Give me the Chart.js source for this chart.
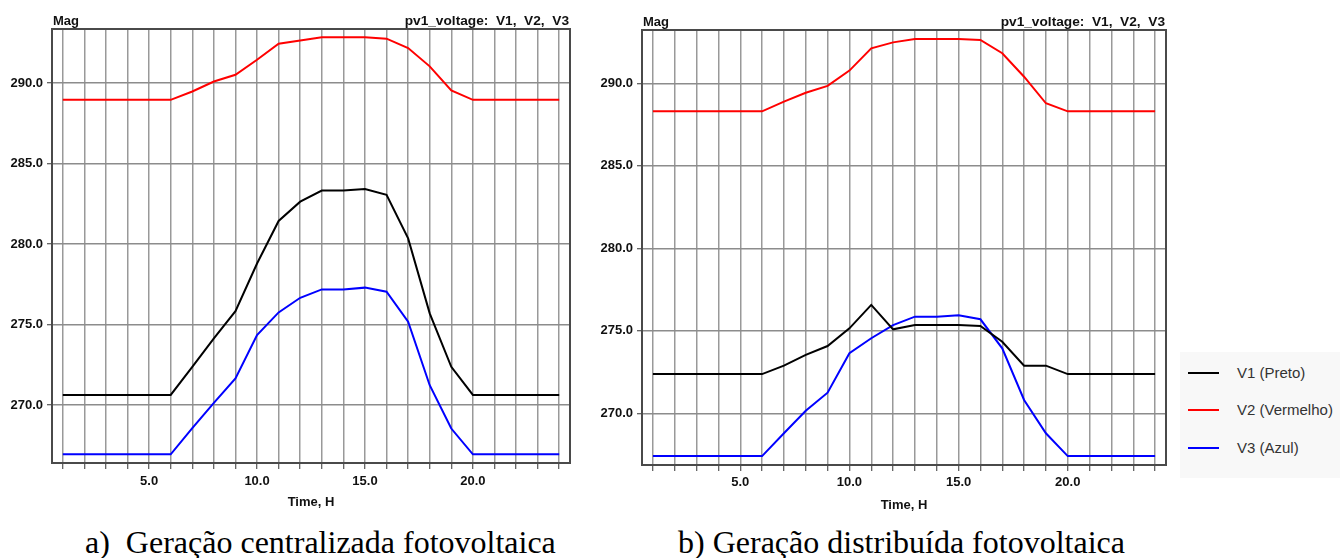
<!DOCTYPE html>
<html lang="pt">
<head>
  <meta charset="UTF-8" />
  <title>pv1_voltage: V1, V2, V3</title>
  <script src="https://cdn.jsdelivr.net/npm/chart.js"></script>
  <style>
    body { margin: 0; background: #fff; width: 1340px; height: 558px; overflow: hidden; position: relative; }
    canvas { position: absolute; top: 0; }
    .caption { position: absolute; top: 526px; font-family: "Liberation Serif", "Times New Roman", serif;
               font-size: 32px; line-height: 32px; color: #000; white-space: pre; }
    #legend { position: absolute; left: 1180px; top: 352px; width: 160px; height: 126px; background: #f8f8f8;
              font-family: "Liberation Sans", Arial, sans-serif; }
    .item { position: absolute; left: 8px; height: 20px; width: 150px; }
    .swatch { position: absolute; left: 0; top: 9px; width: 31px; height: 2px; }
    .label { position: absolute; left: 49px; top: 0; line-height: 20px; font-size: 15px; color: #333; white-space: nowrap; }
  </style>
</head>
<body>
  <canvas id="chartA" width="590" height="520" style="left:0"></canvas>
  <canvas id="chartB" width="596" height="520" style="left:590px"></canvas>
  <div id="legend"></div>
  <div class="caption" style="left:85px">a)  Geração centralizada fotovoltaica</div>
  <div class="caption" style="left:678px">b) Geração distribuída fotovoltaica</div>

  <script>
    // hora do dia (eixo x)
    const hours = [1, 2, 3, 4, 5, 6, 7, 8, 9, 10, 11, 12, 13, 14, 15, 16, 17, 18, 19, 20, 21, 22, 23, 24];
    const xLabelHours = [5, 10, 15, 20];
    const yTicks = [270, 275, 280, 285, 290];
    const seriesNames = ['V1 (Preto)', 'V2 (Vermelho)', 'V3 (Azul)'];

    // a) geracao centralizada
    const v1Central = [270.64, 270.64, 270.64, 270.64, 270.64, 270.64, 272.38, 274.15, 275.84, 278.8, 281.44, 282.64,
                       283.33, 283.33, 283.43, 283.06, 280.36, 275.7, 272.38, 270.64, 270.64, 270.64, 270.64, 270.64];
    const v2Central = [288.96, 288.96, 288.96, 288.96, 288.96, 288.96, 289.48, 290.1, 290.52, 291.45, 292.45, 292.65,
                       292.84, 292.84, 292.84, 292.76, 292.18, 291.04, 289.54, 288.96, 288.96, 288.96, 288.96, 288.96];
    const v3Central = [266.95, 266.95, 266.95, 266.95, 266.95, 266.95, 268.57, 270.14, 271.66, 274.35, 275.76, 276.67,
                       277.19, 277.19, 277.3, 277.05, 275.18, 271.24, 268.55, 266.95, 266.95, 266.95, 266.95, 266.95];

    // b) geracao distribuida
    const v1Distrib = [272.38, 272.38, 272.38, 272.38, 272.38, 272.38, 272.89, 273.54, 274.08, 275.15, 276.57, 275.09,
                       275.35, 275.35, 275.35, 275.29, 274.34, 272.89, 272.89, 272.38, 272.38, 272.38, 272.38, 272.38];
    const v2Distrib = [288.3, 288.3, 288.3, 288.3, 288.3, 288.3, 288.89, 289.43, 289.84, 290.77, 292.12, 292.48,
                       292.69, 292.69, 292.69, 292.63, 291.82, 290.4, 288.79, 288.3, 288.3, 288.3, 288.3, 288.3];
    const v3Distrib = [267.41, 267.41, 267.41, 267.41, 267.41, 267.41, 268.79, 270.16, 271.25, 273.64, 274.55, 275.35,
                       275.86, 275.86, 275.94, 275.7, 273.94, 270.81, 268.79, 267.41, 267.41, 267.41, 267.41, 267.41];

    const lineColors = ['#000000', '#ff0000', '#0000ff'];
    const axisFont = { family: '"Liberation Sans", Arial, sans-serif', size: 13, weight: 'bold' };
    const textColor = '#111';

    // moldura do grafico + textos do topo ("Mag" e titulo)
    const frameHeader = {
      id: 'frameHeader',
      afterDraw(chart, args, opts) {
        const { ctx, chartArea: a } = chart;
        ctx.save();
        ctx.strokeStyle = '#4a4a4a';
        ctx.lineWidth = 2;
        ctx.strokeRect(a.left, a.top, a.right - a.left, a.bottom - a.top);
        ctx.fillStyle = textColor;
        ctx.textBaseline = 'alphabetic';
        ctx.textAlign = 'left';
        ctx.font = 'bold 13px "Liberation Sans", Arial, sans-serif';
        ctx.fillText(opts.left, a.left + 1, a.top - 4);
        ctx.textAlign = 'right';
        ctx.font = 'bold 13.7px "Liberation Sans", Arial, sans-serif';
        ctx.fillText(opts.right, a.right - 1, a.top - 4);
        ctx.restore();
      }
    };

    function makeChart(id, series, cfg) {
      const datasets = series.map((vals, i) => ({
        label: seriesNames[i],
        data: hours.map((h, k) => ({ x: h, y: vals[k] })),
        borderColor: lineColors[i],
        borderWidth: 2,
        pointRadius: 0,
        tension: 0,
        fill: false
      }));
      return new Chart(document.getElementById(id), {
        type: 'line',
        data: { datasets },
        plugins: [frameHeader],
        options: {
          responsive: false,
          animation: false,
          layout: { padding: { top: cfg.top, right: 20, left: 0, bottom: 0 } },
          plugins: {
            legend: { display: false },
            tooltip: { enabled: false },
            frameHeader: { left: 'Mag', right: 'pv1_voltage:  V1,  V2,  V3' }
          },
          scales: {
            x: {
              type: 'linear', min: 0.5, max: 24.5,
              afterBuildTicks: s => { s.ticks = hours.map(v => ({ value: v })); },
              afterFit: s => { s.height = cfg.xHeight; },
              ticks: {
                autoSkip: false, maxRotation: 0, padding: cfg.xPad, color: textColor, font: axisFont,
                callback: v => xLabelHours.includes(v) ? v.toFixed(1) : ''
              },
              grid: { color: '#999', lineWidth: 1.5, tickLength: 6, tickColor: '#333', tickWidth: 1 },
              border: { display: false },
              title: { display: true, text: 'Time, H', color: textColor, font: axisFont,
                       padding: { top: 0, bottom: cfg.titlePad } }
            },
            y: {
              min: cfg.yMin, max: cfg.yMax,
              afterBuildTicks: s => { s.ticks = yTicks.map(v => ({ value: v })); },
              afterFit: s => { s.width = 52; },
              ticks: { padding: 4, color: textColor, font: axisFont, callback: v => v.toFixed(1) },
              grid: { color: '#8c8c8c', lineWidth: 1.5, tickLength: 5, tickColor: '#333', tickWidth: 1 },
              border: { display: false }
            }
          }
        }
      });
    }

    makeChart('chartA', [v1Central, v2Central, v3Central],
      { top: 29, xHeight: 57, xPad: 5, titlePad: 10, yMin: 266.41, yMax: 293.36 });
    makeChart('chartB', [v1Distrib, v2Distrib, v3Distrib],
      { top: 30, xHeight: 55, xPad: 4, titlePad: 7, yMin: 266.87, yMax: 293.23 });

    // legenda a direita
    const legend = document.getElementById('legend');
    const rowTops = [10.7, 48, 85.7];
    seriesNames.forEach((name, i) => {
      const row = document.createElement('div');
      row.className = 'item';
      row.style.top = rowTops[i] + 'px';
      row.innerHTML = '<span class="swatch" style="background:' + lineColors[i] + '"></span>' +
                      '<span class="label">' + name + '</span>';
      legend.appendChild(row);
    });
  </script>
</body>
</html>
